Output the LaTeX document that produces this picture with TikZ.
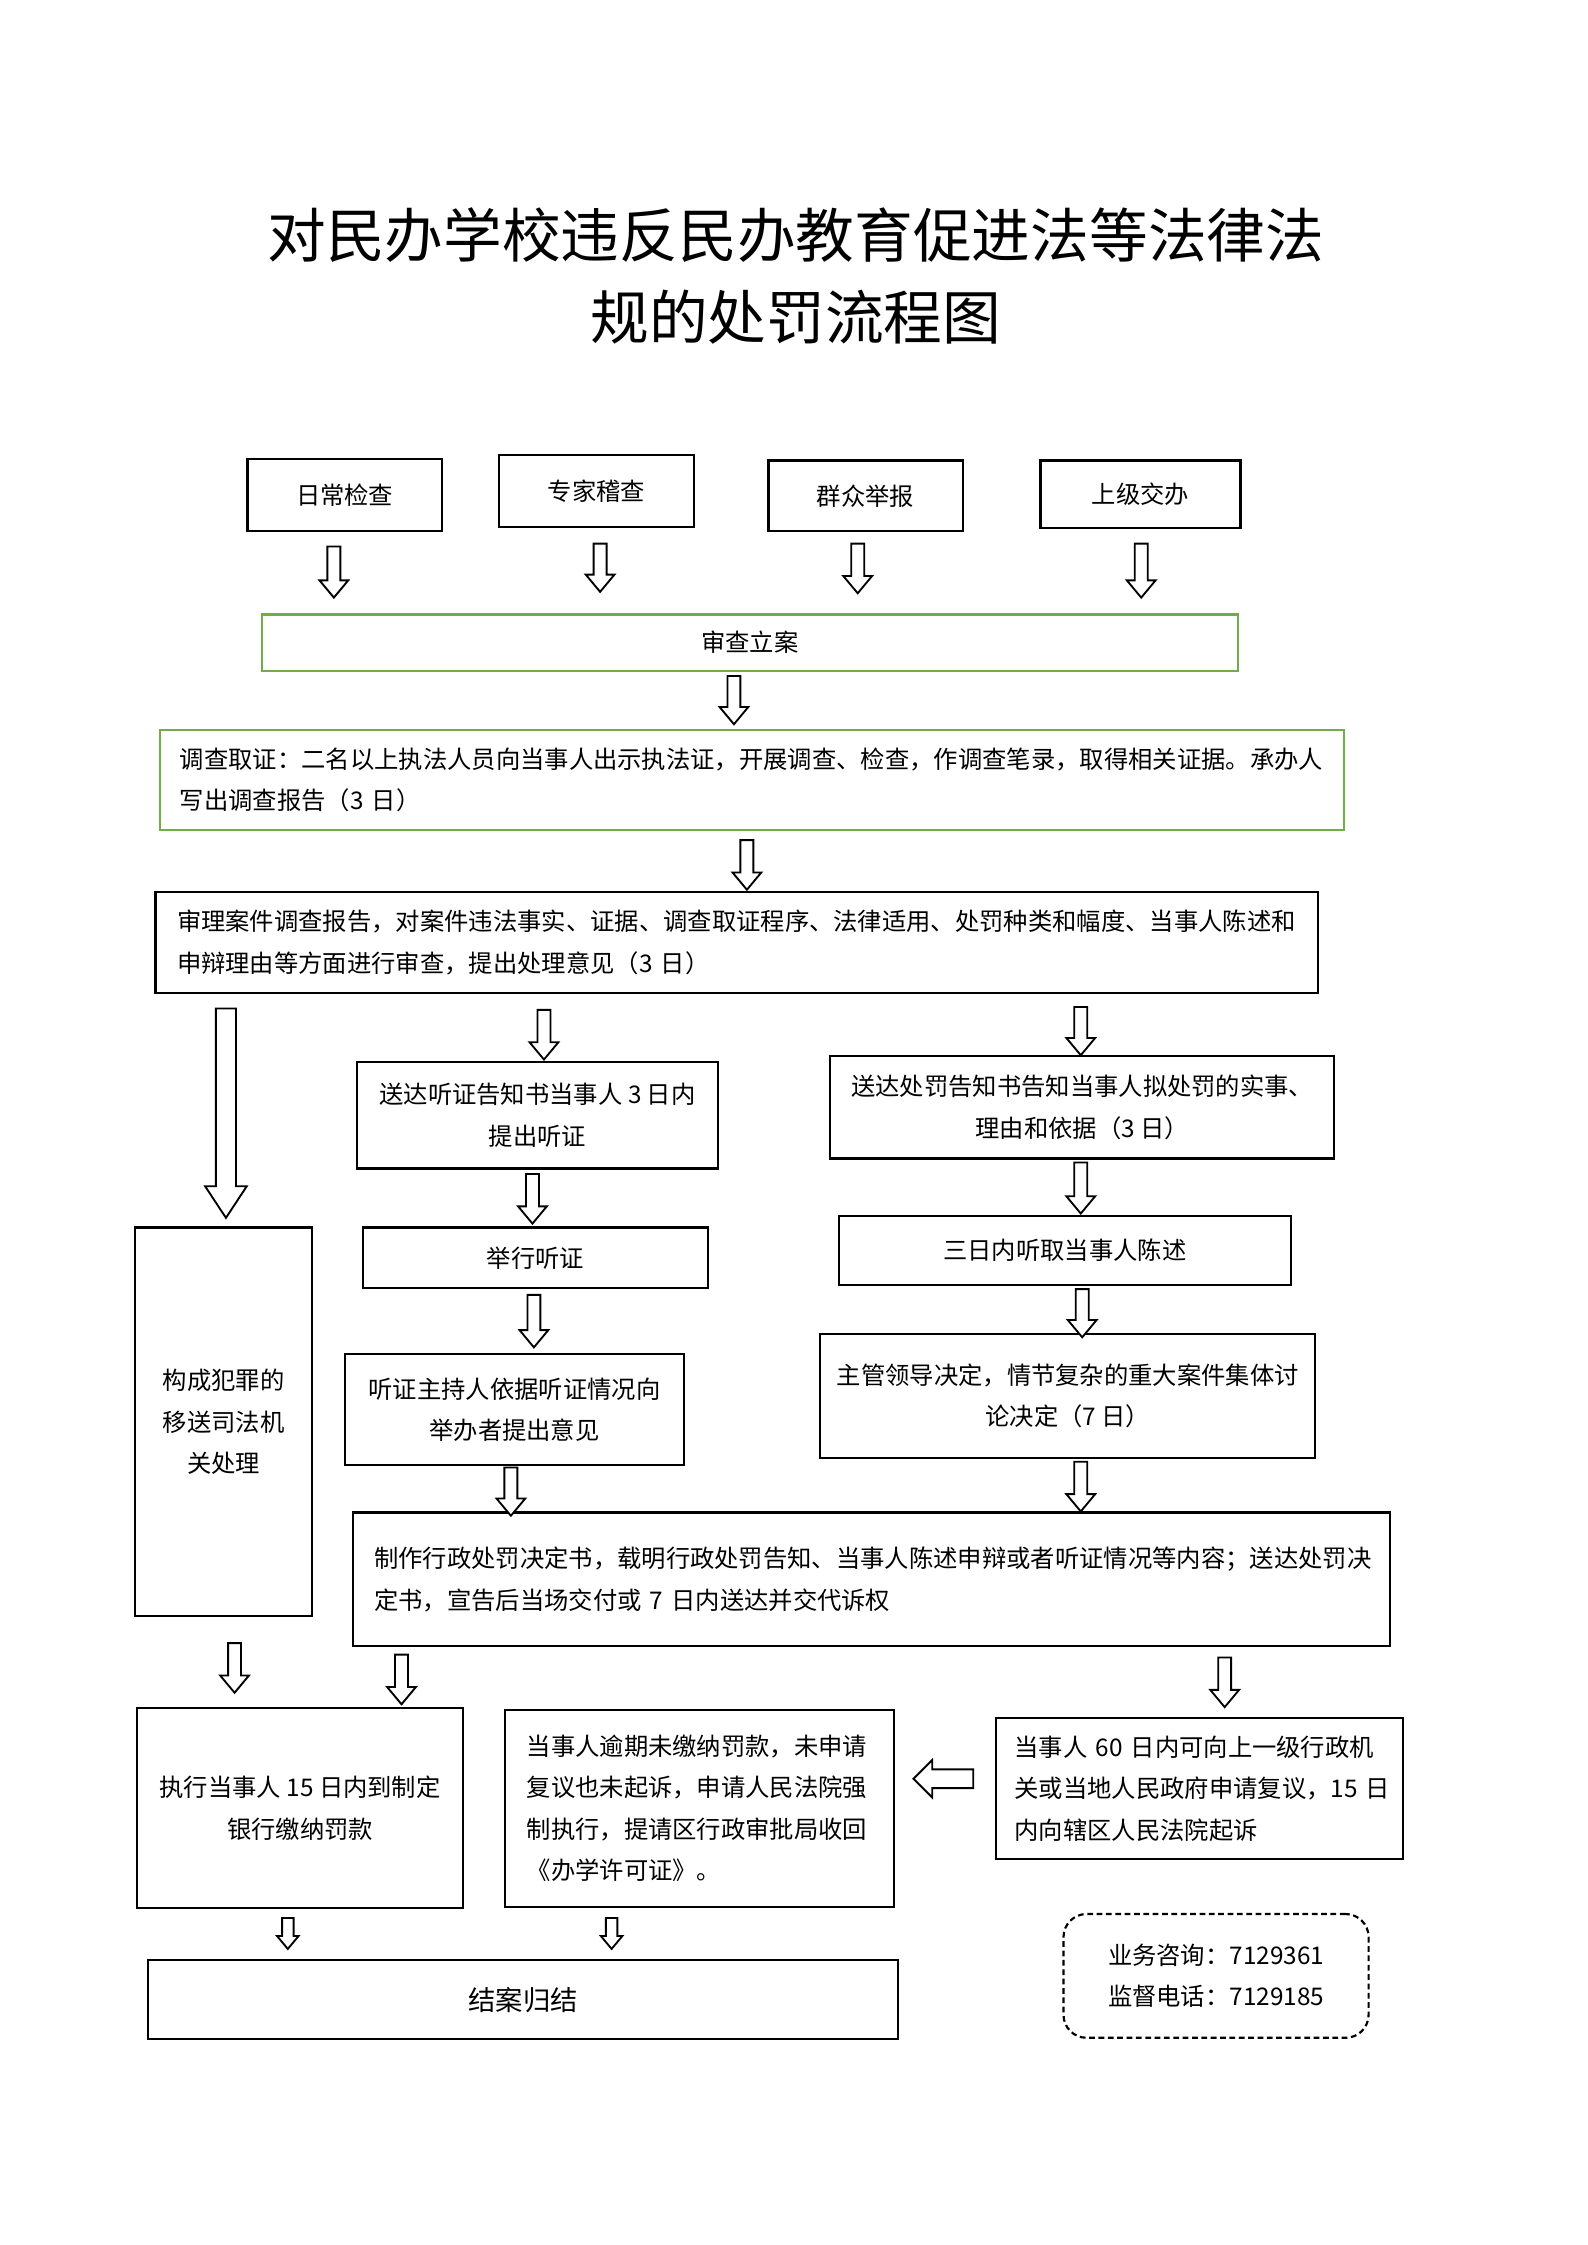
\documentclass[tikz,border=0pt]{standalone}
\usepackage{fontspec}
\setmainfont{Noto Sans CJK SC}
\usetikzlibrary{calc}

\definecolor{boxgreen}{RGB}{112,173,71}
\newcommand{\bodyfont}{\fontsize{16.9}{28.7}\selectfont}
\newcommand{\titlefont}{\fontsize{40.8}{57}\selectfont}
% hollow block arrow: shaft half width, head half width, head length, tail, tip
\newcommand{\bdown}[5]{%
  \coordinate (ba) at ($#4$);
  \coordinate (bb) at ($#5$);
  \draw[barrow] ($(ba)+(-#1,0)$) -- ($(bb)+(-#1,-#3)$) -- ($(bb)+(-#2,-#3)$) -- (bb) -- ($(bb)+(#2,-#3)$) -- ($(bb)+(#1,-#3)$) -- ($(ba)+(#1,0)$) -- cycle;}
\newcommand{\bleft}[5]{%
  \coordinate (ba) at ($#4$);
  \coordinate (bb) at ($#5$);
  \draw[barrow] ($(ba)+(0,-#1)$) -- ($(bb)+(#3,-#1)$) -- ($(bb)+(#3,-#2)$) -- (bb) -- ($(bb)+(#3,#2)$) -- ($(bb)+(#3,#1)$) -- ($(ba)+(0,#1)$) -- cycle;}
\newcommand{\darr}{\bdown{4.5}{10}{12}}
\newcommand{\bigarr}{\bdown{7}{14.5}{22}}
\newcommand{\smallarr}{\bdown{4}{7.5}{9}}

\tikzset{every picture/.style={line width=0.75pt}}
\tikzset{
  box/.style={draw, line width=1.5pt, inner sep=0pt, align=center, font=\bodyfont},
  gbox/.style={box, draw=boxgreen},
  barrow/.style={draw, fill=white, line width=1.3pt, line join=miter},
}

\begin{document}
\begin{tikzpicture}[x=1pt,y=1pt,yscale=-1,xscale=1]
\useasboundingbox (0,0) rectangle (1103,1560);

% Title
\node[font=\titlefont, align=center] (title) at (553,191.5) {对民办学校违反民办教育促进法等法律法\\规的处罚流程图};

% Case sources
\node[box, minimum width=135, minimum height=50] (chk1) at (239.5,344) {日常检查};
\node[box, minimum width=135, minimum height=50] (chk2) at (414.5,341) {专家稽查};
\node[box, minimum width=135, minimum height=49] (chk3) at (601.5,344.5) {群众举报};
\node[box, minimum width=139, minimum height=47] (chk4) at (792.5,343.5) {上级交办};

% Register and investigate
\node[gbox, minimum width=678, minimum height=39] (reg) at (521,446.5) {审查立案};
\node[gbox, align=left, inner xsep=14pt, text width=795pt, minimum height=70] (inv) at (522.5,542)
  {调查取证：二名以上执法人员向当事人出示执法证，开展调查、检查，作调查笔录，取得相关证据。承办人\\写出调查报告（3~日）};
\node[box, align=left, inner xsep=15pt, text width=778pt, minimum height=70] (rev) at (512,655)
  {审理案件调查报告，对案件违法事实、证据、调查取证程序、法律适用、处罚种类和幅度、当事人陈述和\\申辩理由等方面进行审查，提出处理意见（3~日）};

% Hearing branch
\node[box, minimum width=251, minimum height=74] (hear1) at (373.5,775) {送达听证告知书当事人 3 日内\\提出听证};
\node[box, minimum width=240, minimum height=42] (hear2) at (372,874) {举行听证};
\node[box, minimum width=235, minimum height=77] (hear3) at (357.5,979.5) {听证主持人依据听证情况向\\举办者提出意见};

% Notice branch
\node[box, minimum width=350, minimum height=71] (pun1) at (752,769.5) {送达处罚告知书告知当事人拟处罚的实事、\\理由和依据（3 日）};
\node[box, minimum width=314, minimum height=48] (pun2) at (740,869) {三日内听取当事人陈述};
\node[box, minimum width=344, minimum height=86] (pun3) at (742,970) {主管领导决定，情节复杂的重大案件集体讨\\论决定（7 日）};

% Crime
\node[box, minimum width=123, minimum height=270] (crime) at (155.5,988) {构成犯罪的\\移送司法机\\关处理};

% Decision
\node[box, align=left, inner xsep=15pt, text width=691pt, minimum height=93] (dec) at (605.5,1097.5)
  {制作行政处罚决定书，载明行政处罚告知、当事人陈述申辩或者听证情况等内容；送达处罚决\\定书，宣告后当场交付或~7~日内送达并交代诉权};

% Execution
\node[box, minimum width=227, minimum height=139] (exe) at (208.5,1256.5) {执行当事人 15 日内到制定\\银行缴纳罚款};
\node[box, align=left, inner xsep=15pt, text width=240pt, minimum height=137] (force) at (486,1256.5)
  {当事人逾期未缴纳罚款，未申请\\复议也未起诉，申请人民法院强\\制执行，提请区行政审批局收回\\《办学许可证》。};
\node[box, align=left, inner xsep=13pt, text width=257pt, minimum height=98] (appeal) at (833.5,1243)
  {当事人~60~日内可向上一级行政机\\关或当地人民政府申请复议，15~日\\内向辖区人民法院起诉};

% Close and contact
\node[box, minimum width=521, minimum height=55, font=\fontsize{19}{19}\selectfont] (close) at (363.5,1389.5) {结案归结};
\node[draw, dashed, dash pattern=on 4pt off 2.5pt, rounded corners=16pt, line width=1.5pt, minimum width=212, minimum height=86, align=center, font=\bodyfont] (contact) at (845,1373)
  {业务咨询：7129361\\监督电话：7129185};

% Arrows
\darr{(232,0 |- chk1.south)+(0,10)}{(232,0 |- reg.north)+(0,-11)}
\darr{(417,0 |- chk2.south)+(0,11)}{(417,0 |- reg.north)+(0,-15)}
\darr{(596,0 |- chk3.south)+(0,8)}{(596,0 |- reg.north)+(0,-14)}
\darr{(793,0 |- chk4.south)+(0,10)}{(793,0 |- reg.north)+(0,-11)}
\darr{(510,0 |- reg.south)+(0,3)}{(510,0 |- inv.north)+(0,-3)}
\darr{(519,0 |- inv.south)+(0,6)}{(519,0 |- rev.north)+(0,-1)}
\bigarr{(157,0 |- rev.south)+(0,10)}{(157,0 |- crime.north)+(0,-6)}
\darr{(378,0 |- rev.south)+(0,11)}{(378,0 |- hear1.north)+(0,-1)}
\darr{(751,0 |- rev.south)+(0,9)}{(751,0 |- pun1.north)}
\darr{(370,0 |- hear1.south)+(0,3)}{(370,0 |- hear2.north)+(0,-2)}
\darr{(751,0 |- pun1.south)+(0,2)}{(751,0 |- pun2.north)+(0,-1)}
\darr{(371,0 |- hear2.south)+(0,4)}{(371,0 |- hear3.north)+(0,-4)}
\darr{(752,0 |- pun2.south)+(0,2)}{(752,0 |- pun3.north)+(0,3)}
\darr{(355,0 |- hear3.south)+(0,1)}{(355,0 |- dec.north)+(0,3)}
\darr{(751,0 |- pun3.south)+(0,2)}{(751,0 |- dec.north)}
\darr{(163,0 |- crime.south)+(0,18)}{(163,0 |- exe.north)+(0,-10)}
\darr{(279,0 |- dec.south)+(0,5)}{(279,0 |- exe.north)+(0,-2)}
\darr{(851,0 |- dec.south)+(0,7)}{(851,0 |- appeal.north)+(0,-7)}
\bleft{6.5}{13}{13}{(appeal.west)+(-15,-7)}{(force.east |- appeal.west)+(13,-7)}
\smallarr{(200,0 |- exe.south)+(0,6)}{(200,0 |- close.north)+(0,-7)}
\smallarr{(425,0 |- force.south)+(0,7)}{(425,0 |- close.north)+(0,-7)}

\end{tikzpicture}
\end{document}
